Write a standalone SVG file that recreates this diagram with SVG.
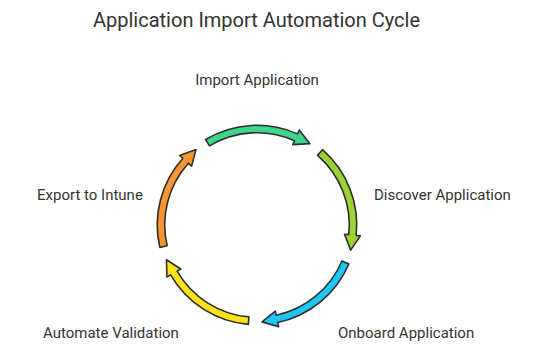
<svg xmlns="http://www.w3.org/2000/svg" width="540" height="359" viewBox="0 0 540 359">
<style>
.t{font-family:Roboto,"Liberation Sans",sans-serif;fill:#333333}
.lbl{font-size:15px}
.ttl{font-size:20px}
.arr{stroke:#2e2e2e;stroke-width:1.6;stroke-linejoin:round}
</style>
<rect width="540" height="359" fill="#ffffff"/>
<text class="t ttl" x="256.5" y="27" text-anchor="middle">Application Import Automation Cycle</text>
<g id="connectors">
<path id="a-import" class="arr" fill="#3DD68C" d="M205.63,139.49 A99.75,99.75 0 0 1 297.57,133.88 L299.30,130.00 L309.83,143.65 L292.79,144.61 L294.52,140.73 A92.25,92.25 0 0 0 209.49,145.92 Z"/>
<path id="a-discover" class="arr" fill="#9BD234" d="M322.45,149.72 A99.75,99.75 0 0 1 356.20,235.42 L360.43,235.87 L350.69,250.10 L344.52,234.20 L348.74,234.64 A92.25,92.25 0 0 0 317.53,155.38 Z"/>
<path id="a-onboard" class="arr" fill="#1EC6F4" d="M348.82,263.97 A99.75,99.75 0 0 1 277.74,322.57 L278.62,326.72 L262.07,321.86 L275.30,311.07 L276.18,315.23 A92.25,92.25 0 0 0 341.92,261.04 Z"/>
<path id="a-validate" class="arr" fill="#FFE11A" d="M248.30,324.37 A99.75,99.75 0 0 1 170.62,274.88 L166.94,277.00 L166.44,259.76 L180.79,269.00 L177.11,271.13 A92.25,92.25 0 0 0 248.96,316.90 Z"/>
<path id="a-export" class="arr" fill="#F79533" d="M159.80,247.44 A99.75,99.75 0 0 1 182.88,158.26 L179.72,155.41 L195.96,149.62 L191.61,166.12 L188.45,163.28 A92.25,92.25 0 0 0 167.11,245.76 Z"/>
</g>
<g id="import"><text class="t lbl" x="257" y="85" text-anchor="middle">Import Application</text></g>
<g id="discover"><text class="t lbl" x="374" y="200">Discover Application</text></g>
<g id="onboard"><text class="t lbl" x="338" y="338">Onboard Application</text></g>
<g id="validate"><text class="t lbl" x="43" y="338">Automate Validation</text></g>
<g id="export"><text class="t lbl" x="37" y="200">Export to Intune</text></g>
</svg>
